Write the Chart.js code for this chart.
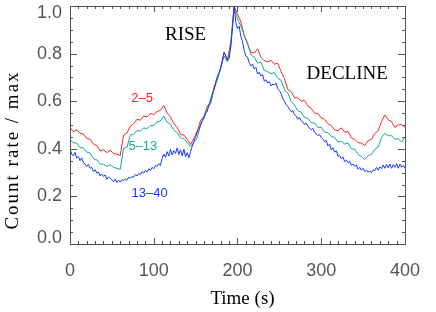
<!DOCTYPE html>
<html>
<head>
<meta charset="utf-8">
<script src="https://cdn.jsdelivr.net/npm/chart.js@4/dist/chart.umd.min.js"></script>
<style>
  html, body { margin: 0; padding: 0; background: #fff; }
  #wrap { width: 436px; height: 312px; }
</style>
</head>
<body>
<div id="wrap"><canvas id="lc"></canvas></div>
<script>
// sample times (s): the two softer bands every 4 s, the hard band every 2 s
const times = Array.from({ length: 101 }, (_, i) => i * 4);
const hardTimes = Array.from({ length: 201 }, (_, i) => i * 2);

// count rate / max
const band2to5 = [
  0.49, 0.472, 0.48, 0.465, 0.462, 0.444, 0.44, 0.42, 0.413, 0.392,
  0.396, 0.384, 0.394, 0.38, 0.378, 0.372, 0.458, 0.466, 0.495, 0.505,
  0.524, 0.52, 0.538, 0.534, 0.548, 0.544, 0.556, 0.562, 0.582, 0.55,
  0.534, 0.506, 0.49, 0.46, 0.458, 0.44, 0.418, 0.445, 0.475, 0.52,
  0.535, 0.58, 0.595, 0.66, 0.695, 0.745, 0.805, 0.775, 0.85, 1.0,
  0.965, 0.935, 0.875, 0.84, 0.805, 0.802, 0.82, 0.785, 0.77, 0.765,
  0.772, 0.755, 0.76, 0.725, 0.695, 0.65, 0.64, 0.615, 0.614, 0.6,
  0.603, 0.58, 0.57, 0.55, 0.548, 0.53, 0.524, 0.505, 0.498, 0.48,
  0.476, 0.488, 0.47, 0.472, 0.446, 0.44, 0.426, 0.424, 0.414, 0.434,
  0.44, 0.465, 0.476, 0.515, 0.542, 0.522, 0.514, 0.49, 0.5, 0.502,
  0.49
];
const band5to13 = [
  0.44, 0.425, 0.424, 0.405, 0.404, 0.386, 0.382, 0.358, 0.354, 0.336,
  0.335, 0.326, 0.333, 0.322, 0.318, 0.314, 0.402, 0.406, 0.458, 0.462,
  0.476, 0.474, 0.488, 0.485, 0.498, 0.497, 0.513, 0.517, 0.537, 0.512,
  0.503, 0.478, 0.468, 0.446, 0.443, 0.426, 0.408, 0.428, 0.446, 0.505,
  0.526, 0.57, 0.59, 0.65, 0.69, 0.74, 0.79, 0.765, 0.83, 0.99,
  0.945, 0.915, 0.88, 0.845, 0.795, 0.785, 0.76, 0.764, 0.73, 0.724,
  0.716, 0.72, 0.696, 0.688, 0.65, 0.634, 0.6, 0.584, 0.56, 0.554,
  0.532, 0.528, 0.51, 0.508, 0.49, 0.49, 0.47, 0.468, 0.452, 0.448,
  0.428, 0.432, 0.42, 0.424, 0.4, 0.398, 0.376, 0.368, 0.355, 0.372,
  0.376, 0.398, 0.406, 0.448, 0.465, 0.455, 0.455, 0.44, 0.443, 0.428,
  0.45
];
const band13to40 = [
  0.40, 0.378, 0.37, 0.385, 0.362, 0.368, 0.35, 0.362, 0.342, 0.336,
  0.326, 0.334, 0.318, 0.322, 0.304, 0.312, 0.298, 0.302, 0.286, 0.294,
  0.284, 0.29, 0.272, 0.282, 0.276, 0.27, 0.262, 0.272, 0.258, 0.268,
  0.26, 0.27, 0.266, 0.274, 0.268, 0.28, 0.276, 0.284, 0.28, 0.292,
  0.286, 0.296, 0.292, 0.304, 0.298, 0.31, 0.302, 0.316, 0.31, 0.322,
  0.316, 0.33, 0.326, 0.338, 0.33, 0.36, 0.378, 0.364, 0.388, 0.37,
  0.398, 0.374, 0.392, 0.38, 0.404, 0.376, 0.396, 0.37, 0.398, 0.366,
  0.384, 0.362, 0.39, 0.41, 0.432, 0.448, 0.47, 0.482, 0.5, 0.52,
  0.536, 0.55, 0.558, 0.585, 0.61, 0.63, 0.648, 0.68, 0.705, 0.72,
  0.738, 0.77, 0.805, 0.79, 0.772, 0.78, 0.83, 0.91, 1.0, 0.93,
  0.905, 0.915, 0.872, 0.85, 0.812, 0.79, 0.785, 0.762, 0.748, 0.756,
  0.735, 0.742, 0.714, 0.722, 0.706, 0.712, 0.684, 0.69, 0.676, 0.682,
  0.664, 0.672, 0.668, 0.676, 0.652, 0.645, 0.632, 0.612, 0.6, 0.586,
  0.578, 0.566, 0.556, 0.56, 0.544, 0.538, 0.524, 0.532, 0.518, 0.512,
  0.502, 0.508, 0.494, 0.488, 0.48, 0.486, 0.47, 0.462, 0.456, 0.46,
  0.448, 0.44, 0.43, 0.435, 0.412, 0.42, 0.395, 0.404, 0.386, 0.392,
  0.368, 0.372, 0.358, 0.366, 0.346, 0.352, 0.342, 0.348, 0.33, 0.336,
  0.326, 0.332, 0.314, 0.322, 0.31, 0.318, 0.304, 0.31, 0.302, 0.306,
  0.3, 0.312, 0.308, 0.322, 0.31, 0.324, 0.316, 0.332, 0.318, 0.334,
  0.32, 0.336, 0.318, 0.334, 0.322, 0.338, 0.318, 0.336, 0.322, 0.33,
  0.318
];

const bandNames = ['2–5', '5–13', '13–40'];
const bandColors = ['#ff2020', '#10a8a0', '#1838ff'];
// where the band names sit, in data units [time, rate]
const bandLabelPos = [[86, 0.613], [87, 0.412], [95, 0.214]];
const phaseNames = ['RISE', 'DECLINE'];
const phaseLabelPos = [[138, 0.878], [331, 0.716]];
const yTicks = [0.0, 0.2, 0.4, 0.6, 0.8, 1.0];

const frameColor = '#555';
const serif = '"Liberation Serif", "DejaVu Serif", serif';
const sans = '"Liberation Sans", "DejaVu Sans", sans-serif';

function toPoints(ts, vals) {
    return vals.map((v, i) => ({ x: ts[i], y: v }));
}

// frame, inward ticks on all four sides, y labels, axis titles and notes
const framePlugin = {
    id: 'frame',
    afterDraw(chart) {
        const ctx = chart.ctx;
        const a = chart.chartArea;
        const xs = chart.scales.x;
        const ys = chart.scales.y;
        ctx.save();
        ctx.strokeStyle = frameColor;
        ctx.lineWidth = 1;
        ctx.strokeRect(Math.round(a.left) + 0.5, Math.round(a.top) + 0.5,
            Math.round(a.right - a.left), Math.round(a.bottom - a.top));

        ctx.beginPath();
        for (let t = 0; t <= 400; t += 10) {
            const px = Math.round(xs.getPixelForValue(t)) + 0.5;
            const len = t % 100 === 0 ? 6 : 3;
            ctx.moveTo(px, a.bottom); ctx.lineTo(px, a.bottom - len);
            ctx.moveTo(px, a.top); ctx.lineTo(px, a.top + len);
        }
        for (let k = 0; k <= 20; k++) {
            const py = Math.round(ys.getPixelForValue(k * 0.05)) + 0.5;
            const len = k % 4 === 0 ? 7 : 3;
            ctx.moveTo(a.left, py); ctx.lineTo(a.left + len, py);
            ctx.moveTo(a.right, py); ctx.lineTo(a.right - len, py);
        }
        ctx.stroke();

        // y tick labels, kept inside the frame at both ends
        ctx.fillStyle = frameColor;
        ctx.font = '18px ' + sans;
        ctx.textAlign = 'right';
        ctx.textBaseline = 'middle';
        yTicks.forEach(v => {
            let py = ys.getPixelForValue(v);
            py = Math.min(Math.max(py, a.top + 7), a.bottom - 6);
            ctx.fillText(v.toFixed(1), a.left - 8, py);
        });

        ctx.textAlign = 'center';
        ctx.font = '13px ' + sans;
        bandNames.forEach((name, i) => {
            ctx.fillStyle = bandColors[i];
            const p = bandLabelPos[i];
            ctx.fillText(name, xs.getPixelForValue(p[0]), ys.getPixelForValue(p[1]));
        });

        ctx.fillStyle = '#000';
        ctx.font = '19px ' + serif;
        phaseNames.forEach((name, i) => {
            const p = phaseLabelPos[i];
            ctx.fillText(name, xs.getPixelForValue(p[0]), ys.getPixelForValue(p[1]));
        });

        // axis titles
        ctx.fillText('Time (s)', (a.left + a.right) / 2 + 5, 299);
        ctx.translate(13, (a.top + a.bottom) / 2 + 25);
        ctx.rotate(-Math.PI / 2);
        ctx.letterSpacing = '2px';
        ctx.fillText('Count rate / max', 0, 0);
        ctx.restore();
    }
};

const series = [
    [times, band2to5],
    [times, band5to13],
    [hardTimes, band13to40]
];

const chart = new Chart(document.getElementById('lc'), {
    type: 'line',
    data: {
        datasets: series.map((s, i) => ({
            label: bandNames[i],
            data: toPoints(s[0], s[1]),
            borderColor: bandColors[i],
            borderWidth: 1,
            pointRadius: 0,
            tension: 0,
            fill: false,
            order: 2 - i
        }))
    },
    options: {
        responsive: true,
        maintainAspectRatio: false,
        animation: false,
        layout: { padding: { top: 6, right: 29, left: 0, bottom: 0 } },
        plugins: {
            legend: { display: false },
            tooltip: { enabled: false }
        },
        scales: {
            x: {
                type: 'linear',
                min: 0,
                max: 400,
                grid: { display: false, drawTicks: false },
                border: { display: false },
                ticks: {
                    stepSize: 100,
                    padding: 16,
                    color: frameColor,
                    font: { family: sans, size: 18 }
                },
                afterFit(scale) { scale.height = 68; }
            },
            y: {
                min: 0,
                max: 1.0,
                grid: { display: false, drawTicks: false },
                border: { display: false },
                ticks: { display: false },
                afterFit(scale) { scale.width = 70; }
            }
        }
    },
    plugins: [framePlugin]
});
</script>
</body>
</html>
